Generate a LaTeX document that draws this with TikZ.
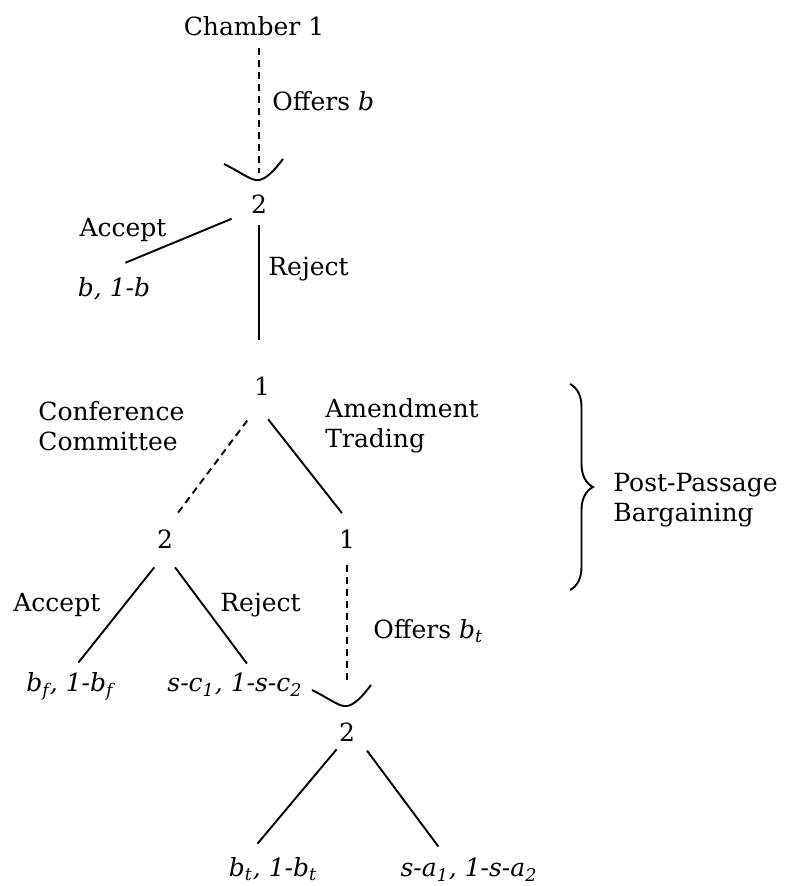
\documentclass[tikz,border=0pt]{standalone}
\usepackage{fontspec}
\setmainfont{DejaVu Serif}
\usetikzlibrary{calc,decorations.pathreplacing}

\tikzset{
  treelbl/.style={inner sep=0pt, text height=9pt, text depth=2.5pt,
                  font=\fontsize{12.5}{15}\selectfont},
  movelbl/.style={treelbl, anchor=west},
  notelbl/.style={inner sep=0pt, anchor=west, align=left,
                  font=\fontsize{12.5}{15}\selectfont},
  branch/.style={line width=0.95pt},
  offerline/.style={line width=0.95pt, dash pattern=on 3.5pt off 2.5pt},
  offerarc/.pic={
    \draw[line width=0.95pt] (-35,-16) .. controls (-15,-6) and (-8,1) .. (0,0)
      .. controls (7,-1) and (15,-9) .. (24,-21);
  }
}
\newcommand{\psub}[1]{\textsubscript{\textit{#1}}}

\begin{document}
\begin{tikzpicture}[x=0.5pt,y=-0.5pt]
  \useasboundingbox (0,0) rectangle (792,886);

  % first offer
  \node[treelbl] (ch1) at (254,29) {Chamber 1};
  \coordinate (tip1) at (259,180);
  \node[movelbl] (offb) at (272,104) {Offers \textit{b}};
  \node[treelbl] (r2) at (259,207) {2};
  \node[treelbl] (acc1) at (123,230) {Accept};
  \node[treelbl] (pb) at (114,290) {\textit{b, 1-b}};
  \node[movelbl] (rej1) at (268,269) {Reject};

  % post-passage stage
  \node[treelbl] (p1) at (262,389) {1};
  \node[notelbl] (ccLbl) at (38,426) {Conference\\Committee};
  \node[notelbl] (atLbl) at (325,426) {Amendment\\Trading};
  \node[treelbl] (cc2) at (165,542) {2};
  \node[treelbl] (at1) at (347,542) {1};
  \node[movelbl] (acc2) at (13,605) {Accept};
  \node[movelbl] (rej2) at (220,605) {Reject};
  \node[treelbl] (pf) at (70,685) {\textit{b\psub{f}, 1-b\psub{f}}};
  \node[treelbl] (pc) at (235,685) {\textit{s-c\psub{1}, 1-s-c\psub{2}}};
  \node[movelbl] (offbt) at (373,632) {Offers \textit{b}\psub{t}};
  \coordinate (tip2) at (347,706);
  \node[treelbl] (at2) at (347,735) {2};
  \node[treelbl] (pbt) at (273,870) {\textit{b\psub{t}, 1-b\psub{t}}};
  \node[treelbl] (psa) at (469,870) {\textit{s-a\psub{1}, 1-s-a\psub{2}}};

  % bracket
  \coordinate (brTop) at (570,384);
  \coordinate (brBot) at (570,590);
  \draw[branch, decorate, decoration={brace, amplitude=11.5pt}] (brTop) -- (brBot);
  \node[notelbl] (ppb) at (613,500) {Post-Passage\\Bargaining};

  % branches
  \draw[offerline, shorten <=3.75pt, shorten >=3.5pt] (ch1.south -| tip1) -- (tip1);
  \pic at (tip1) {offerarc};
  \draw[branch, shorten <=10.3pt, shorten >=20pt] (r2.205) -- ($(pb.north west)!0.15!(pb.north east)$);
  \draw[branch, shorten <=3.25pt, shorten >=18.75pt] (r2.south) -- (r2.south |- p1.north);
  \draw[offerline, shorten <=12.3pt, shorten >=8.7pt] (p1.south) -- (cc2.north);
  \draw[branch, shorten <=11.7pt, shorten >=10.8pt] (p1.south west) -- (at1.north east);
  \draw[branch, shorten <=8.6pt, shorten >=6.7pt] (cc2.south) -- (pf.north);
  \draw[branch, shorten <=8.4pt, shorten >=5.9pt] (cc2.south) -- ($(pc.north west)!0.64!(pc.north east)$);
  \draw[offerline, shorten <=5.75pt, shorten >=10.5pt] (at1.south) -- (tip2);
  \pic at (tip2) {offerarc};
  \draw[branch, shorten <=1.6pt, shorten >=9.4pt] (at2.south west) -- ($(pbt.north west)!0.19!(pbt.north east)$);
  \draw[branch, shorten <=9.8pt, shorten >=7.2pt] (at2.east) -- ($(psa.north west)!0.34!(psa.north east)$);
\end{tikzpicture}
\end{document}
